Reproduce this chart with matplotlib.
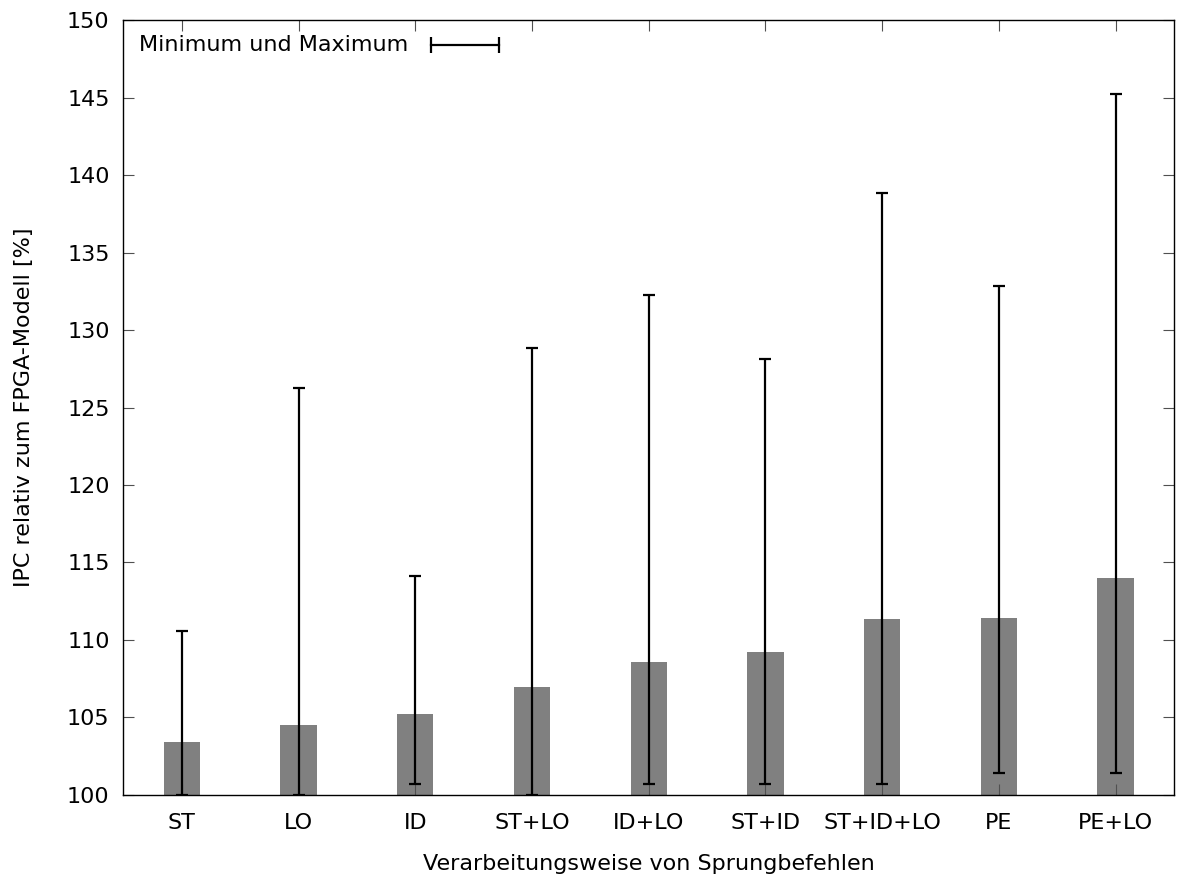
import matplotlib
matplotlib.use("Agg")
import matplotlib.pyplot as plt
import numpy as np

# IPC relative to FPGA model, per branch handling variant
categories = ["ST", "LO", "ID", "ST+LO", "ID+LO", "ST+ID", "ST+ID+LO", "PE", "PE+LO"]
ipc_mean = [103.4, 104.5, 105.2, 106.95, 108.55, 109.2, 111.35, 111.4, 114.0]
ipc_min = [100.0, 100.0, 100.7, 100.0, 100.7, 100.7, 100.7, 101.4, 101.4]
ipc_max = [110.6, 126.25, 114.1, 128.85, 132.25, 128.15, 138.85, 132.85, 145.2]
yticks = list(range(100, 151, 5))

plt.rcParams["font.family"] = ["DejaVu Sans"]
plt.rcParams["font.size"] = 16

fig = plt.figure(figsize=(11.77, 8.74), dpi=100)
ax = fig.add_axes([0.1049, 0.0904, 0.8925, 0.8867])

x = np.arange(len(categories))
mean = np.array(ipc_mean)
lo = mean - np.array(ipc_min)
hi = np.array(ipc_max) - mean

ax.bar(x, mean - 100, bottom=100, width=0.31, color="#808080", zorder=1)
ax.errorbar(x, mean, yerr=[lo, hi], fmt="none", ecolor="black",
            elinewidth=1.6, capsize=4.5, capthick=1.6, zorder=2)

ax.set_xlim(-0.5, len(categories) - 0.5)
ax.set_ylim(100, 150)
ax.set_xticks(x)
ax.set_xticklabels(categories)
ax.set_yticks(yticks)
ax.tick_params(axis="y", pad=10)
ax.tick_params(axis="x", pad=13)
ax.tick_params(direction="in", length=7.7, width=0.8, color="#505050",
               top=True, right=True)
for s in ax.spines.values():
    s.set_linewidth(1.0)
    s.set_color("black")

ax.set_xlabel("Verarbeitungsweise von Sprungbefehlen", labelpad=15)
ax.set_ylabel("IPC relativ zum FPGA-Modell [%]", labelpad=24)

# gnuplot-style key: text, then a sample bar with caps
ax.text(0.0152, 0.968, "Minimum und Maximum", transform=ax.transAxes,
        ha="left", va="center")
ax.plot([0.2925, 0.3575], [0.968, 0.968], transform=ax.transAxes,
        color="black", lw=1.6, marker="|", markersize=12, markeredgewidth=1.6,
        clip_on=False)

fig.savefig("out.png", dpi=100)
